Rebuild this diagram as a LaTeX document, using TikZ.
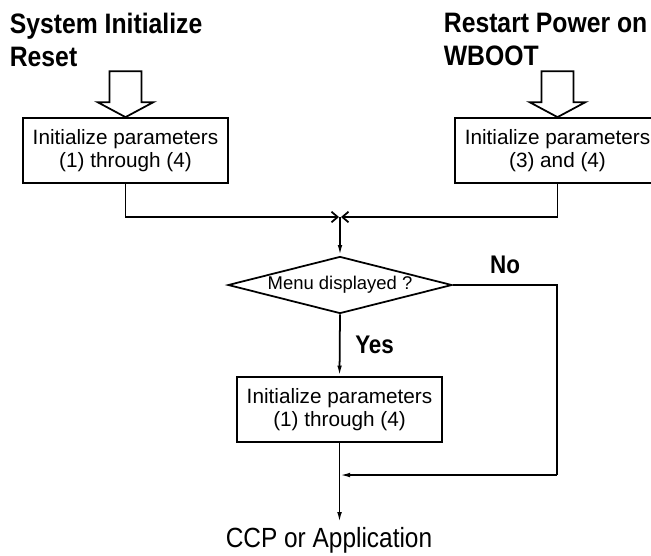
\documentclass[tikz,border=0pt]{standalone}
\usepackage{fontspec}
\setmainfont{Liberation Sans}
\newfontfamily\etroite{Liberation Sans}[FakeStretch=0.88]
\usepackage{tikz}
\usetikzlibrary{calc}
\usetikzlibrary{arrows.meta}
\usetikzlibrary{shapes.geometric}

\begin{document}
\begin{tikzpicture}[x=0.02cm, y=-0.02cm, line width=1pt]

\tikzset{
    box/.style = {
    draw,
    minimum height=1.3cm,
    minimum width = 4.1cm,
    align=center,
    font=\fontsize{11.8}{13}\selectfont
    }
}

\tikzstyle{titre}=[inner sep=0pt, align=left, font=\etroite\bfseries\fontsize{16}{19}\selectfont]
\tikzstyle{reponse}=[font=\etroite\bfseries\fontsize{14.5}{17}\selectfont]
\tikzstyle{choix}=[draw, diamond, aspect=3.9, inner sep=0pt, minimum width=4.48cm, minimum height=1.14cm, font=\fontsize{10.5}{12}\selectfont]
\tikzstyle{flow}=[-{Latex[length=6pt,width=2.6pt]}]
\tikzstyle{merge}=[-{Straight Barb[length=3.5pt,width=6pt]}]

\useasboundingbox (0,0) rectangle (651,555);

\node (sys) [titre, anchor=north west] at (9,12) {System Initialize\\Reset};
\node (rst) [titre, anchor=north west] at (443,12) {Restart Power on\\WBOOT};

\node (init-a) [box] at (125.5,150.5) {Initialize parameters\\(1) through (4)};
\node (init-b) [box] at (557.5,150.5) {Initialize parameters\\(3) and (4)};

% big hollow arrows
\draw (init-a.north) -- ++(-28,-15) -- ++(12,0) -- ++(0,-31) -- ++(32,0) -- ++(0,31) -- ++(12,0) -- cycle;
\draw (init-b.north) -- ++(-28,-15) -- ++(12,0) -- ++(0,-31) -- ++(32,0) -- ++(0,31) -- ++(12,0) -- cycle;

\coordinate (join) at (340,217);
\draw[merge] (init-a.south) |- ($(join)+(-1,0)$);
\draw[merge] (init-b.south) |- ($(join)+(1,0)$);

\node (menu) [choix] at (340,285) {Menu displayed ?};
\draw[flow] (join) -- (menu.north);

\node (init-c) [box] at (339.5,409.5) {Initialize parameters\\(1) through (4)};
\draw[flow] (menu.south) -- (init-c.north) node[midway, right=5pt, reponse] {Yes};

\node (app) [font=\etroite\fontsize{15.8}{18}\selectfont, inner sep=2pt] at (329,540) {CCP or Application};
\draw[flow] (init-c.south) -- (init-c.south |- app.north);

\coordinate (back) at (557,475);
\draw (menu.east) -| (back);
\draw[flow] (back) -- (init-c.south |- back);
\node (no) [reponse] at (505,265) {No};

\end{tikzpicture}
\end{document}
